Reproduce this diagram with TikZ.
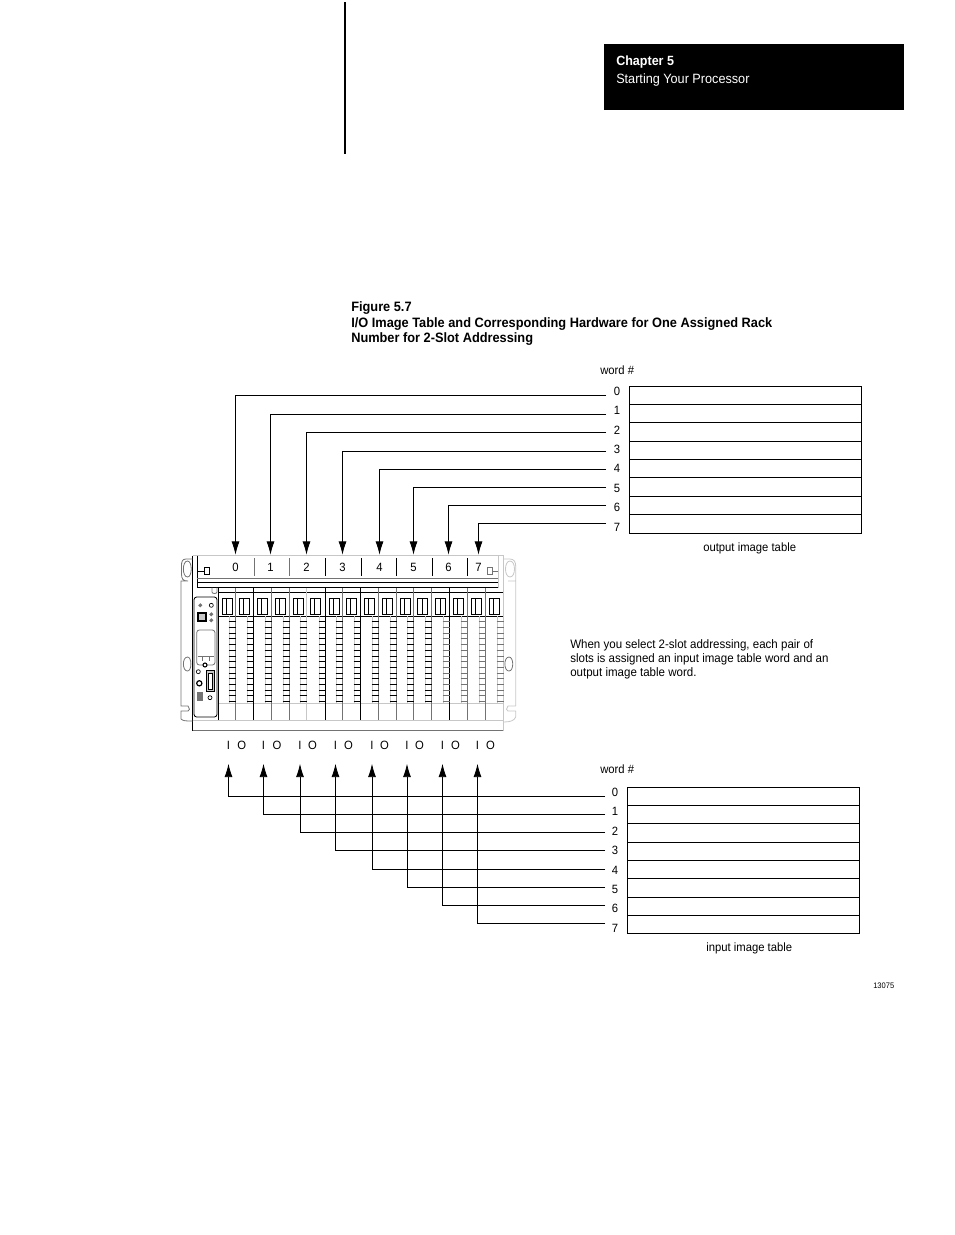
\documentclass[tikz,border=0pt]{standalone}
\usepackage{fontspec}
\setmainfont[FakeStretch=0.94]{Liberation Sans}
\usetikzlibrary{arrows.meta}
\definecolor{rackgrey}{gray}{0.78}
\definecolor{rackmid}{gray}{0.45}
\tikzset{
    wire/.style={-{Latex[length=10pt,width=6pt]}, line width=0.6pt},
    tablerule/.style={line width=0.7pt},
    caption/.style={anchor=west, inner sep=0pt, font=\fontsize{9}{10}\selectfont},
    numlabel/.style={inner sep=0pt, font=\fontsize{9}{10}\selectfont},
    slotlabel/.style={numlabel, minimum height=18pt},
    iolabel/.style={numlabel, minimum height=27pt},
    rackline/.style={line width=0.6pt},
    paneldot/.style={line width=0.5pt, fill=white},
}
\begin{document}
\begin{tikzpicture}[x=0.75pt, y=-0.75pt]
    \useasboundingbox (0,0) rectangle (954,1235);

    % Page furniture
    \fill (604,44) rectangle (904,110);
    \node[anchor=west, inner sep=0pt, text=white, font=\fontsize{10}{12}\selectfont\bfseries] (chapter) at (616,62) {Chapter 5};
    \node[anchor=west, inner sep=0pt, text=white, font=\fontsize{10.1}{12}\selectfont] (chaptitle) at (616,80) {Starting Your Processor};
    \draw[line width=1.5pt] (345,2) -- (345,154);

    % Figure title
    \node[anchor=north west, inner sep=0pt, align=left, font=\fontsize{10.2}{11.7}\selectfont\bfseries] (figtitle) at (351,301.5)
        {Figure 5.7\\I/O Image Table and Corresponding Hardware for One Assigned Rack\\Number for 2-Slot Addressing};

    % Output image table
    \node[caption] (outword) at (600,370) {word \#};
    \draw[tablerule] (629,386) rectangle (861,533);
    \foreach \y in {404,422,441,459,477,496,514}
        \draw[tablerule] (629,\y) -- (861,\y);
    \node[caption] (outcaption) at (703,548) {output image table};

    % Input image table
    \node[caption] (inword) at (600,769) {word \#};
    \draw[tablerule] (627,787) rectangle (859,933);
    \foreach \y in {805,823,842,860,878,897,915}
        \draw[tablerule] (627,\y) -- (859,\y);
    \node[caption] (incaption) at (706,948) {input image table};

    % Rack outline
    \draw[rackline] (192.5,555.5) -- (192.5,730.5);
    \draw[rackline, rackmid] (192.5,730.5) -- (503,730.5);
    \draw[rackline, rackgrey] (192.5,555.5) -- (503,555.5) -- (503,730.5);
    \draw[rackline] (197,555.5) -- (197,587.5);
    \draw[rackline, rackgrey] (498,555.5) -- (498,587.5);
    \draw[rackline, rackmid] (197,578) -- (498,578);
    \draw[rackline] (197,582) -- (498,582);
    \draw[rackline] (197,587.5) -- (498,587.5);
    \draw[rackline] (218,592) -- (503,592);
    \draw[rackline] (218,616) -- (503,616);
    \draw[rackline, rackgrey] (218,703) -- (503,703);
    \draw[rackline, rackgrey] (193,720) -- (503,720);

    % Flanges
    \draw[rackline, rackmid] (192.5,559) -- (186,559) .. controls (182,559) and (181.5,562) .. (181.5,566) -- (181.5,574)
        .. controls (181.5,579) and (183,581) .. (188,581) -- (181,581) -- (181,706) -- (188,706)
        .. controls (190,708) and (190,711) .. (188,711) -- (181,711) -- (181,719)
        .. controls (183,721) and (186,721) .. (192.5,721);
    \draw[rackline, rackmid] (187.5,657) .. controls (182,657) and (182,671) .. (187.5,671) .. controls (192,671) and (192,657) .. (187.5,657);
    \draw[rackline, rackmid] (187.5,561) .. controls (182,561) and (182,577) .. (187.5,577) .. controls (192.5,577) and (192.5,561) .. (187.5,561);
    \draw[rackline, rackgrey] (503,559) -- (510,559) .. controls (514,559) and (515.7,562) .. (515.7,566) -- (515.7,706)
        (515.7,581) -- (508,581) (515.7,706) -- (508,706) .. controls (506,708) and (506,711) .. (508,711) -- (515.7,711) -- (515.7,717)
        .. controls (514,721) and (510,722) .. (503,722);
    \draw[rackline, rackmid] (509,657) .. controls (503.5,657) and (503.5,671) .. (509,671) .. controls (514,671) and (514,657) .. (509,657);
    \draw[rackline, rackgrey] (510,561) .. controls (504,561) and (504,577) .. (510,577) .. controls (516,577) and (516,561) .. (510,561);

    % Latches
    \draw[rackline] (198,571) -- (204,571) (204,567) rectangle (209,574);
    \draw[rackline, rackmid] (498,571) -- (492,571) (487,567) rectangle (492,574);
    \draw[rackline, rackmid] (212,587.5) -- (212,592) .. controls (212,594) and (217,594) .. (217,592) -- (217,587.5);

    % Slots, ladders and label windows
    \foreach \x/\col in {218/black,235/rackmid,253/black,271/rackmid,289/rackmid,306/rackgrey,325/black,342/rackmid,
        360/black,378/rackmid,396/rackmid,413.5/rackmid,431.5/rackmid,449/black,467/rackmid,485/rackmid}
    {
        \draw[rackline, \col] (\x,587.5) -- (\x,720);
        \draw[rackline] (\x+4,598) rectangle (\x+14,614);
        \draw[rackline] (\x+8.5,598) -- (\x+8.5,614);
    }
    \foreach \x in {235,253,271,289,306,325,342,360,378,396,413.5,431.5,449,467,485,503}
        \draw[rackline, rackgrey] (\x-6,616) -- (\x-6,703);
    \foreach \x/\col in {235/black,253/black,271/black,289/black,306/black,325/black,342/black,360/black,378/black,396/black,
        413.5/black,431.5/black,449/rackmid,467/rackmid,485/rackmid,503/rackmid}
        \foreach \n in {0,...,14}
            \draw[rackline, \col] (\x-6.5,621.7+5.7*\n) -- (\x+0.5,621.7+5.7*\n);

    % Slot dividers in the top band
    \foreach \x/\col in {254/rackmid,289/rackmid,325/black,361/black,396/black,432/black,467/black}
        \draw[rackline, \col] (\x,558) -- (\x,576);

    % Processor panel
    \draw[rackline, rounded corners=2pt, fill=white] (194,597) rectangle (217,717);
    \draw[paneldot, rackmid] (200.3,605.3) circle (1.6);
    \draw[paneldot] (211.3,605.3) circle (2);
    \draw[paneldot, rackmid] (211.3,614.3) circle (1.6);
    \draw[paneldot, rackmid] (211.3,620.3) circle (1.6);
    \fill (196.7,612.3) rectangle (206.7,621.7);
    \fill[rackgrey] (199,614) rectangle (205,620);
    \draw[rackline, rackmid, rounded corners=2pt] (196.7,630) rectangle (215,665);
    \draw[rackline, rackmid] (197.5,656.7) -- (214,656.7) (202,656.7) -- (202,661) (209,656.7) -- (209,661);
    \draw[paneldot, line width=0.8pt] (205,665) circle (2);
    \draw[paneldot] (198.3,671.7) circle (2);
    \draw[paneldot, line width=0.9pt] (199.3,683.3) circle (2.6);
    \draw[rackline, fill=rackgrey] (206,670) rectangle (214.3,691.7);
    \draw[rackline, fill=white] (208,673) rectangle (212.5,689);
    \fill[rackmid] (196.7,692.3) rectangle (202.7,701);
    \draw[paneldot] (210,697.7) circle (2);

    % Slot numbers
    \foreach \i/\x in {0/235.5,1/270.5,2/306.5,3/342.5,4/379.5,5/413.5,6/448.5,7/478.5}
        \node[slotlabel] (slot\i) at (\x,567) {\i};

    % I and O labels
    \foreach \i/\x/\ox in {0/228.5/241.7,1/263.5/277,2/300/312.5,3/335.5/348.5,4/372/384.5,5/407/419.5,6/442.5/455.5,7/477.5/490.5}
    {
        \node[iolabel] (inp\i) at (\x,745.5) {I};
        \node[numlabel] (outp\i) at (\ox,745.5) {O};
    }

    % Output word connectors
    \foreach \i/\ly/\wy in {0/391/395,1/410/414,2/430/432,3/449/451,4/468/469,5/488/487,6/507/505,7/527/523}
    {
        \node[numlabel] (oword\i) at (617,\ly) {\i};
        \coordinate (oend\i) at (606,\wy);
        \draw[wire] (oend\i) -| (slot\i.north);
    }

    % Input word connectors
    \foreach \i/\ly/\wy in {0/792/796,1/811/814,2/831/832,3/850/850,4/870/869,5/889/887,6/908/905,7/928/923}
    {
        \node[numlabel] (iword\i) at (615,\ly) {\i};
        \coordinate (iend\i) at (605,\wy);
        \draw[wire] (iend\i) -| (inp\i.south);
    }

    % Note and figure number
    \node[anchor=north west, inner sep=0pt, align=left, font=\fontsize{9.2}{10.6}\selectfont] (note) at (570,639)
        {When you select 2-slot addressing, each pair of\\slots is assigned an input image table word and an\\output image table word.};
    \node[anchor=west, inner sep=0pt, font=\fontsize{6}{8}\selectfont] (fignum) at (873,985.5) {13075};
\end{tikzpicture}
\end{document}
